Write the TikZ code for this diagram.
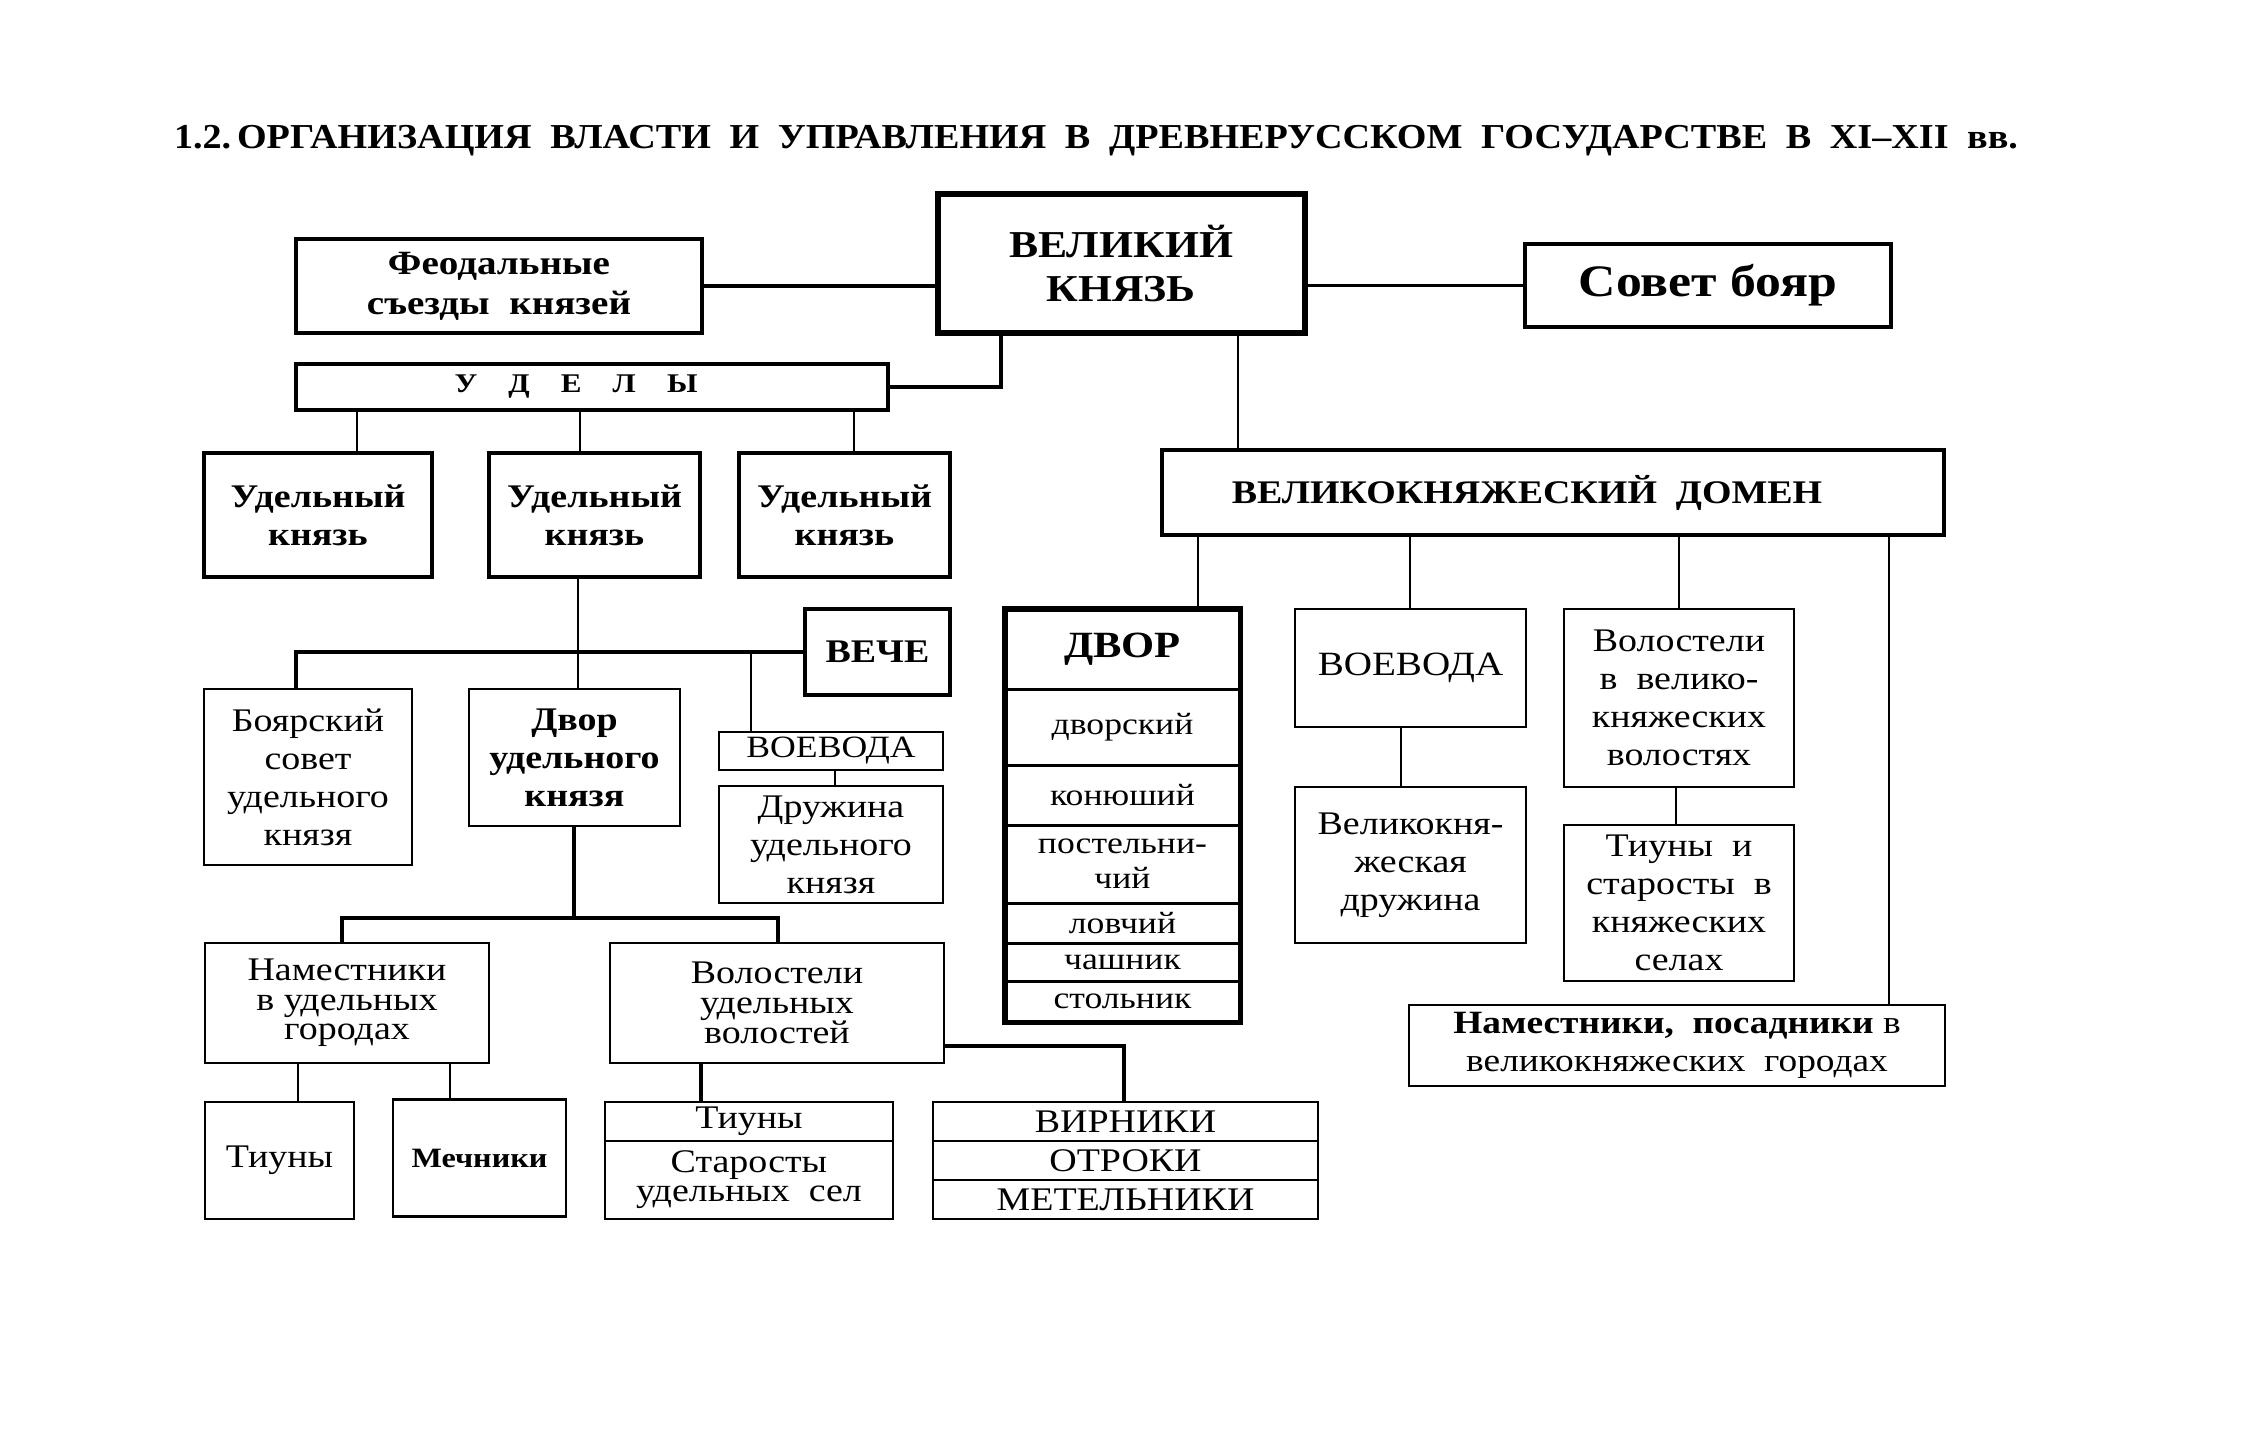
\documentclass[tikz,border=0pt]{standalone}
\usepackage{fontspec}
\setmainfont{Liberation Serif}[FakeStretch=1.15]
\newfontfamily\titlefont{Liberation Serif}[FakeStretch=1.09]
\usetikzlibrary{calc}
\tikzset{
  bx/.style={draw, line width=2.5pt, inner sep=0pt, align=center, font=\fontsize{33}{38}\selectfont},
  bxb/.style={bx, font=\fontsize{33}{38}\selectfont\bfseries},
  tight/.style={font=\fontsize{33}{29.5}\selectfont},
  ln/.style={line width=2.5pt},
  lnt/.style={line width=3.8pt},
}
\begin{document}
\begin{tikzpicture}[x=1pt,y=-1pt]
\useasboundingbox[fill=white] (0,0) rectangle (2241,1431);
% title
\node[inner sep=0pt, font=\titlefont\fontsize{35}{40}\selectfont\bfseries] (title) at (1096,141)
  {\makebox[1844pt][s]{1.2.\,ОРГАНИЗАЦИЯ ВЛАСТИ И УПРАВЛЕНИЯ В ДРЕВНЕРУССКОМ ГОСУДАРСТВЕ В XI–XII вв.}};
% top row
\node[bxb, line width=4.5pt, minimum width=406pt, minimum height=94pt, font=\fontsize{34}{40}\selectfont\bfseries] (feod) at (499,286) {Феодальные\\съезды\ \ князей};
\node[bxb, line width=6pt, minimum width=367pt, minimum height=139pt, font=\fontsize{38}{44}\selectfont\bfseries] (vk) at (1121,264) {ВЕЛИКИЙ\\КНЯЗЬ};
\node[bxb, line width=4pt, minimum width=366pt, minimum height=83pt, font=\fontsize{45}{50}\selectfont\bfseries] (sovet) at (1708,285.5) {Совет бояр};
\node[bxb, line width=3.5pt, minimum width=592pt, minimum height=46pt, font=\fontsize{27}{30}\selectfont\bfseries] (udely) at (592,387) {\makebox[243pt][s]{У Д Е Л Ы}\hspace*{32pt}};
% udelnye knyazya
\node[bxb, line width=4.5pt, minimum width=228pt, minimum height=124pt] (uk1) at (318,515) {Удельный\\князь};
\node[bxb, line width=4.5pt, minimum width=211pt, minimum height=124pt] (uk2) at (594.5,515) {Удельный\\князь};
\node[bxb, line width=4.5pt, minimum width=211pt, minimum height=124pt] (uk3) at (844.5,515) {Удельный\\князь};
% domen
\node[bxb, line width=4pt, minimum width=782pt, minimum height=85pt] (domen) at (1553,492.5) {ВЕЛИКОКНЯЖЕСКИЙ\ \ ДОМЕН\hspace*{52pt}};
% left middle
\node[bxb, line width=4.5pt, minimum width=145pt, minimum height=86pt] (veche) at (877.5,652) {ВЕЧЕ};
\node[bx, minimum width=208pt, minimum height=176pt] (boyar) at (308,777) {Боярский\\совет\\удельного\\князя};
\node[bxb, minimum width=211pt, minimum height=137pt] (dvorud) at (574.5,757.5) {Двор\\удельного\\князя};
\node[bx, minimum width=224pt, minimum height=38pt, font=\fontsize{31}{36}\selectfont] (voevsm) at (831,751) {ВОЕВОДА};
\node[bx, minimum width=224pt, minimum height=117pt] (druzh) at (831,844.5) {Дружина\\удельного\\князя};
\node[bx, tight, minimum width=284pt, minimum height=120pt] (namud) at (347,1003) {Наместники\\в удельных\\городах};
\node[bx, tight, minimum width=334pt, minimum height=120pt] (volud) at (777,1003) {Волостели\\удельных\\волостей};
% bottom row
\node[bx, minimum width=149pt, minimum height=117pt] (tiuny) at (279.5,1160.5) {Тиуны};
\node[bxb, minimum width=173pt, minimum height=117pt, font=\fontsize{28}{34}\selectfont\bfseries] (mech) at (479.5,1158) {Мечники};
\node[bx, minimum width=288pt, minimum height=39pt] (tst1) at (749,1121.5) {Тиуны};
\node[bx, minimum width=288pt, minimum height=78pt, font=\fontsize{33}{29}\selectfont] (tst2) at (749,1180) {Старосты\\удельных\ \ сел};
\node[bx, minimum width=385pt, minimum height=39pt] (virn) at (1125.5,1121.5) {ВИРНИКИ};
\node[bx, minimum width=385pt, minimum height=39pt] (otr) at (1125.5,1160.5) {ОТРОКИ};
\node[bx, minimum width=385pt, minimum height=39pt] (met) at (1125.5,1199.5) {МЕТЕЛЬНИКИ};
% dvor column
\node[bxb, line width=3pt, minimum width=233pt, minimum height=79pt, font=\fontsize{37}{42}\selectfont\bfseries] (dv1) at (1122.5,649.5) {ДВОР};
\node[bx, line width=3pt, minimum width=233pt, minimum height=76pt, font=\fontsize{31}{35}\selectfont] (dv2) at (1122.5,727) {дворский};
\node[bx, line width=3pt, minimum width=233pt, minimum height=60pt, font=\fontsize{31}{35}\selectfont] (dv3) at (1122.5,795) {конюший};
\node[bx, line width=3pt, minimum width=233pt, minimum height=78pt, font=\fontsize{31}{35}\selectfont] (dv4) at (1122.5,864) {постельни-\\чий};
\node[bx, line width=3pt, minimum width=233pt, minimum height=40pt, font=\fontsize{31}{35}\selectfont] (dv5) at (1122.5,923) {ловчий};
\node[bx, line width=3pt, minimum width=233pt, minimum height=38pt, font=\fontsize{31}{35}\selectfont] (dv6) at (1122.5,962) {чашник};
\node[bx, line width=3pt, minimum width=233pt, minimum height=40pt, font=\fontsize{31}{35}\selectfont] (dv7) at (1122.5,1001) {стольник};
\draw[line width=5pt] (dv1.north west) rectangle (dv7.south east);
% right part
\node[bx, minimum width=231pt, minimum height=118pt, font=\fontsize{34}{38}\selectfont] (voevr) at (1410.5,668) {ВОЕВОДА};
\node[bx, minimum width=231pt, minimum height=156pt] (vkdr) at (1410.5,865) {Великокня-\\жеская\\дружина};
\node[bx, minimum width=230pt, minimum height=178pt] (volvk) at (1679,698) {Волостели\\в\ \ велико-\\княжеских\\волостях};
\node[bx, minimum width=230pt, minimum height=156pt] (tiunyvk) at (1679,903) {Тиуны\ \ и\\старосты\ \ в\\княжеских\\селах};
\node[bx, minimum width=536pt, minimum height=81pt, font=\fontsize{32.5}{38}\selectfont] (nampos) at (1677,1045.5) {{\bfseries Наместники,\ \ посадники} в\\великокняжеских\ \ городах};
% helper coordinates
\coordinate (k1) at (1001,0);
\coordinate (k2) at (1238,0);
\coordinate (xa) at (357,0);
\coordinate (xb) at (580,0);
\coordinate (xc) at (854,0);
\coordinate (xd) at (578,0);
\coordinate (xe) at (296,0);
\coordinate (xf) at (751,0);
\coordinate (xg) at (835,0);
\coordinate (xh) at (574,0);
\coordinate (xi) at (342,0);
\coordinate (xj) at (778,0);
\coordinate (xk) at (298,0);
\coordinate (xl) at (450,0);
\coordinate (xm) at (701,0);
\coordinate (xn) at (1124,0);
\coordinate (y2) at (0,918);
\coordinate (y3) at (0,1046);
\coordinate (d1) at (1198,0);
\coordinate (d2) at (1410,0);
\coordinate (d3) at (1679,0);
\coordinate (d4) at (1889,0);
\coordinate (d5) at (1401,0);
\coordinate (d6) at (1676,0);
% connectors
\draw[lnt] (feod.east) -- (feod.east -| vk.west);
\draw[ln] (sovet.west) -- (sovet.west -| vk.east);
\draw[lnt] (k1 |- vk.south) |- (udely.east);
\draw[ln] (k2 |- vk.south) -- (k2 |- domen.north);
\draw[ln] (xa |- udely.south) -- (xa |- uk1.north);
\draw[ln] (xb |- udely.south) -- (xb |- uk2.north);
\draw[ln] (xc |- udely.south) -- (xc |- uk3.north);
\draw[ln] (xd |- uk2.south) -- (xd |- dvorud.north);
\draw[lnt] (xe |- boyar.north) |- (veche.west);
\draw[ln] (xf |- veche.west) -- (xf |- voevsm.north);
\draw[ln] (xg |- voevsm.south) -- (xg |- druzh.north);
\draw[lnt] (xh |- dvorud.south) -- (xh |- y2);
\draw[lnt] (xi |- namud.north) |- (xj |- y2) -- (xj |- volud.north);
\draw[ln] (xk |- namud.south) -- (xk |- tiuny.north);
\draw[ln] (xl |- namud.south) -- (xl |- mech.north);
\draw[lnt] (xm |- volud.south) -- (xm |- tst1.north);
\draw[lnt] (volud.east |- y3) -| (xn |- virn.north);
\draw[ln] (d1 |- domen.south) -- (d1 |- dv1.north);
\draw[ln] (d2 |- domen.south) -- (d2 |- voevr.north);
\draw[ln] (d3 |- domen.south) -- (d3 |- volvk.north);
\draw[ln] (d4 |- domen.south) -- (d4 |- nampos.north);
\draw[ln] (d5 |- voevr.south) -- (d5 |- vkdr.north);
\draw[ln] (d6 |- volvk.south) -- (d6 |- tiunyvk.north);
\end{tikzpicture}
\end{document}
